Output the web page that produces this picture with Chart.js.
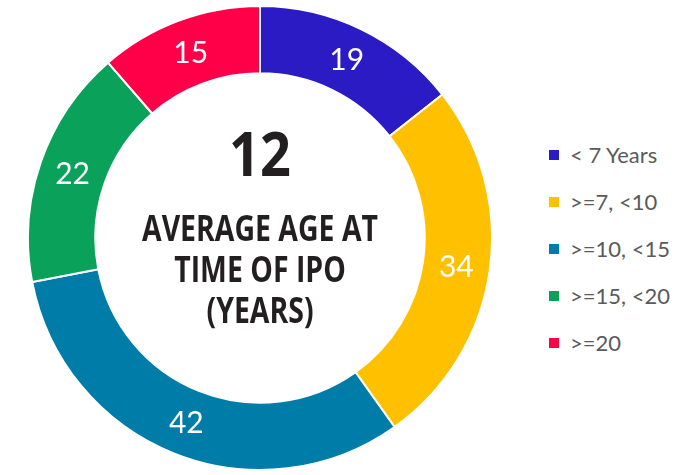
<!DOCTYPE html>
<html>
<head>
    <title>Average Age at Time of IPO</title>
    <style>
        body { margin: 0; background: #fff; width: 697px; height: 475px; position: relative; overflow: hidden; }
        #chartBox { position: absolute; left: 27px; top: 5px; width: 466px; height: 466px; }
        #legend { position: absolute; left: 549px; top: 141px; font-family: Lato, "Open Sans", sans-serif; font-size: 22px; color: #5a5a5a; }
        #legend div { height: 47px; line-height: 28px; display: flex; align-items: flex-start; }
        #legend span.box { display: inline-block; width: 10px; height: 10px; margin: 9px 11px 0 0; }
    </style>
    <script src="https://cdn.jsdelivr.net/npm/chart.js"></script>
</head>
<body>
    <div id="chartBox">
        <canvas id="ageChart"></canvas>
    </div>
    <div id="legend"></div>

    <script>
        const categories = ['< 7 Years', '>=7, <10', '>=10, <15', '>=15, <20', '>=20'];
        const counts = [19, 34, 42, 22, 15];
        const colors = ['#2a1bc4', '#ffc000', '#007ca8', '#0aa15a', '#ff0048'];
        const averageAge = '12';
        const centerLines = ['AVERAGE AGE AT', 'TIME OF IPO', '(YEARS)'];

        // white numbers in the middle of each ring segment
        const sliceLabels = {
            id: 'sliceLabels',
            afterDatasetsDraw(chart) {
                const ctx = chart.ctx;
                const meta = chart.getDatasetMeta(0);
                ctx.save();
                ctx.fillStyle = '#fff';
                ctx.font = '30px Lato, "Open Sans", sans-serif';
                ctx.textAlign = 'center';
                ctx.textBaseline = 'middle';
                meta.data.forEach((arc, i) => {
                    const p = arc.tooltipPosition();
                    ctx.fillText(chart.data.datasets[0].data[i], p.x, p.y + 1);
                });
                ctx.restore();
            }
        };

        // the big average in the hole, caption squeezed to look condensed
        const centerText = {
            id: 'centerText',
            afterDraw(chart) {
                const ctx = chart.ctx;
                const arc = chart.getDatasetMeta(0).data[0];
                const cx = arc.x, cy = arc.y;
                ctx.save();
                ctx.fillStyle = '#231f20';
                ctx.textAlign = 'center';
                ctx.textBaseline = 'middle';
                ctx.font = 'bold 60px "Open Sans", sans-serif';
                ctx.save();
                ctx.translate(cx, cy - 79);
                ctx.scale(0.9, 1);
                ctx.fillText(averageAge, 0, 0);
                ctx.restore();

                ctx.font = 'bold 35px "Open Sans", sans-serif';
                const squeeze = 236 / ctx.measureText(centerLines[0]).width;
                centerLines.forEach((line, i) => {
                    ctx.save();
                    ctx.translate(cx, cy - 7 + i * 41);
                    ctx.scale(squeeze, 1);
                    ctx.fillText(line, 0, 0);
                    ctx.restore();
                });
                ctx.restore();
            }
        };

        const chart = new Chart(document.getElementById('ageChart'), {
            type: 'doughnut',
            data: {
                labels: categories,
                datasets: [{
                    data: counts,
                    backgroundColor: colors,
                    borderColor: '#fff',
                    borderWidth: 2
                }]
            },
            options: {
                responsive: true,
                maintainAspectRatio: false,
                animation: false,
                cutout: '71%',
                layout: { padding: 0 },
                plugins: {
                    legend: { display: false },
                    tooltip: { enabled: false }
                }
            },
            plugins: [sliceLabels, centerText]
        });

        const legendEl = document.getElementById('legend');
        categories.forEach((name, i) => {
            const row = document.createElement('div');
            const box = document.createElement('span');
            box.className = 'box';
            box.style.background = colors[i];
            row.appendChild(box);
            row.appendChild(document.createTextNode(name));
            legendEl.appendChild(row);
        });
    </script>
</body>
</html>
